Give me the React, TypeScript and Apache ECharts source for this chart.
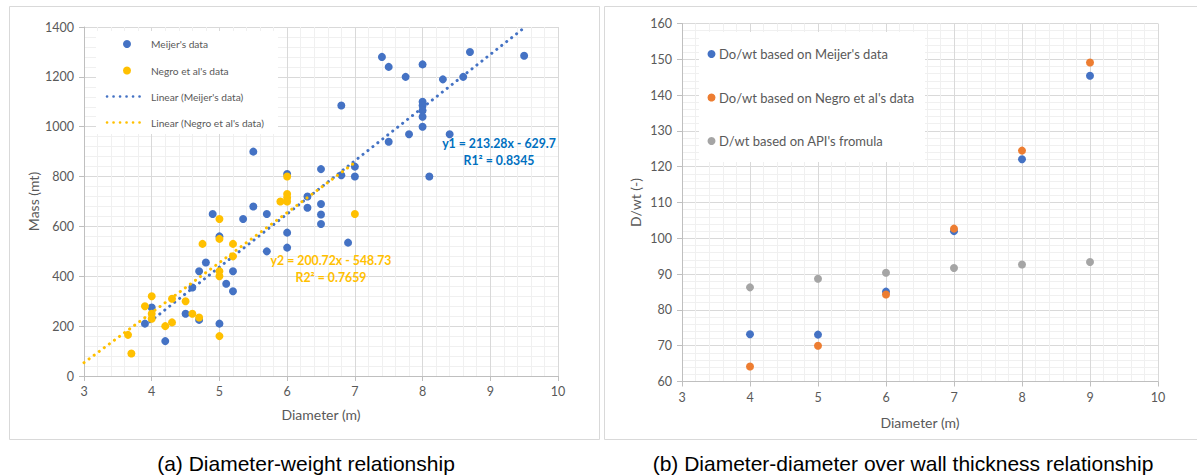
import React, { useEffect, useRef } from "react";
import * as echarts from "echarts";

// (a) Diameter vs mass
const meijerDiameter = [3.9, 4.0, 4.2, 4.5, 4.6, 4.7, 4.7, 4.8, 4.9, 5.0, 5.0, 5.1, 5.2, 5.2, 5.35, 5.5, 5.5, 5.7, 5.7, 6.0, 6.0, 6.0, 6.3, 6.3, 6.5, 6.5, 6.5, 6.5, 6.8, 6.8, 6.9, 7.0, 7.0, 7.4, 7.5, 7.5, 7.75, 7.8, 8.0, 8.0, 8.0, 8.0, 8.0, 8.0, 8.1, 8.3, 8.4, 8.6, 8.7, 9.5];
const meijerMass = [210, 275, 140, 250, 355, 420, 225, 455, 650, 560, 210, 370, 420, 340, 630, 900, 680, 650, 500, 810, 575, 515, 720, 675, 830, 690, 648, 610, 1085, 805, 535, 840, 800, 1280, 1240, 940, 1200, 970, 1250, 1100, 1085, 1065, 1040, 1000, 800, 1190, 970, 1200, 1300, 1285];
const negroDiameter = [3.65, 3.7, 3.9, 4.0, 4.0, 4.0, 4.2, 4.3, 4.3, 4.5, 4.6, 4.7, 4.75, 5.0, 5.0, 5.0, 5.0, 5.0, 5.2, 5.2, 5.9, 6.0, 6.0, 6.0, 6.0, 7.0];
const negroMass = [165, 90, 280, 320, 250, 230, 200, 310, 215, 300, 250, 235, 530, 630, 550, 420, 400, 160, 530, 480, 700, 800, 730, 715, 700, 650];

// Linear trend lines: [slope, intercept, x start, x end]
const meijerFit = [213.28, -629.7, 3.9, 9.5];
const negroFit = [200.72, -548.73, 3.0, 7.0];

// (b) Diameter vs D/wt
const dwtDiameter = [4, 5, 6, 7, 8, 9];
const dwtMeijer = [73.2, 73.1, 85.1, 102.0, 122.1, 145.4];
const dwtNegro = [64.2, 70.0, 84.3, 102.7, 124.5, 149.1];
const dwtApi = [86.3, 88.7, 90.4, 91.7, 92.7, 93.4];

const BLUE = "#4472C4";
const YELLOW = "#FFC000";
const ORANGE = "#ED7D31";
const GRAY = "#A5A5A5";
const TEXT = "#595959";
const FONT = "Lato, 'Noto Sans', sans-serif";

const pairs = (xs: number[], ys: number[]) => xs.map((x, i) => [x, ys[i]]);
const fitLine = (f: number[]) => [
  [f[2], f[0] * f[2] + f[1]],
  [f[3], f[0] * f[3] + f[1]],
];

function valueAxis(min: number, max: number, interval: number, name: string, isY: boolean, gridIndex: number, nameGap: number) {
  return {
    type: "value",
    gridIndex,
    min,
    max,
    interval,
    name,
    nameLocation: "middle",
    nameGap,
    nameTextStyle: { color: TEXT, fontSize: 14, fontFamily: FONT },
    axisLine: { show: true, lineStyle: { color: "#BFBFBF", width: 1 } },
    axisTick: { show: true, length: 5, lineStyle: { color: "#BFBFBF" } },
    axisLabel: {
      color: TEXT,
      fontSize: 12.5,
      fontFamily: FONT,
      margin: isY ? 10 : 9,
      formatter: (v: number) => String(v),
    },
    splitLine: { show: true, lineStyle: { color: "#D9D9D9", width: 1 } },
    minorTick: { show: false, splitNumber: 5 },
    minorSplitLine: { show: true, lineStyle: { color: "#F0F0F0", width: 1 } },
  };
}

export default function App() {
  const ref = useRef<HTMLDivElement>(null);

  useEffect(() => {
    if (!ref.current) return;
    const chart = echarts.init(ref.current, undefined, { renderer: "svg" });

    const dotLine = (color: string) => ({
      color,
      width: 3,
      type: [0.1, 6.2],
      cap: "round",
    });

    const legendText = (x: number, y: number, text: string, size: number) => ({
      type: "text",
      x,
      y,
      z: 101,
      style: { text, fill: TEXT, fontSize: size, fontFamily: FONT, verticalAlign: "middle", align: "left" },
    });

    const dot = (x: number, y: number, color: string) => ({
      type: "circle",
      z: 101,
      shape: { cx: x, cy: y, r: 4 },
      style: { fill: color },
    });

    const dottedSample = (y: number, color: string) => ({
      type: "line",
      z: 101,
      shape: { x1: 107, y1: y, x2: 146, y2: y },
      style: { stroke: color, lineWidth: 2.6, lineDash: [0.1, 6.4], lineCap: "round" },
    });

    const eqText = (x: number, y: number, text: string, color: string) => ({
      type: "text",
      x,
      y,
      z: 100,
      style: { text, fill: color, fontSize: 12.3, fontWeight: "bold", fontFamily: FONT, align: "center", verticalAlign: "middle" },
    });

    const caption = (x: number, text: string) => ({
      type: "text",
      x,
      y: 463,
      style: { text, fill: "#000", fontSize: 21, fontFamily: "'Liberation Sans', Arial, sans-serif", align: "center", verticalAlign: "middle" },
    });

    chart.setOption({
      animation: false,
      backgroundColor: "#fff",
      grid: [
        { left: 84, top: 27, width: 474, height: 349 },
        { left: 682, top: 23.5, width: 476, height: 358 },
      ],
      xAxis: [
        valueAxis(3, 10, 1, "Diameter (m)", false, 0, 31),
        valueAxis(3, 10, 1, "Diameter (m)", false, 1, 34),
      ],
      yAxis: [
        valueAxis(0, 1400, 200, "Mass (mt)", true, 0, 44),
        valueAxis(60, 160, 10, "D/wt (-)", true, 1, 40),
      ],
      series: [
        {
          type: "line",
          name: "Linear (Meijer's data)",
          xAxisIndex: 0,
          yAxisIndex: 0,
          data: fitLine(meijerFit),
          showSymbol: false,
          lineStyle: dotLine(BLUE),
          z: 3,
        },
        {
          type: "scatter",
          name: "Meijer's data",
          xAxisIndex: 0,
          yAxisIndex: 0,
          data: pairs(meijerDiameter, meijerMass),
          symbolSize: 8,
          itemStyle: { color: BLUE, opacity: 1 },
          z: 4,
        },
        {
          type: "scatter",
          name: "Negro et al's data",
          xAxisIndex: 0,
          yAxisIndex: 0,
          data: pairs(negroDiameter, negroMass),
          symbolSize: 8,
          itemStyle: { color: YELLOW, opacity: 1 },
          z: 5,
        },
        {
          type: "line",
          name: "Linear (Negro et al's data)",
          xAxisIndex: 0,
          yAxisIndex: 0,
          data: fitLine(negroFit),
          showSymbol: false,
          lineStyle: dotLine(YELLOW),
          z: 6,
        },
        {
          type: "scatter",
          name: "Do/wt based on Meijer's data",
          xAxisIndex: 1,
          yAxisIndex: 1,
          data: pairs(dwtDiameter, dwtMeijer),
          symbolSize: 8,
          itemStyle: { color: BLUE, opacity: 1 },
        },
        {
          type: "scatter",
          name: "Do/wt based on Negro et al's data",
          xAxisIndex: 1,
          yAxisIndex: 1,
          data: pairs(dwtDiameter, dwtNegro),
          symbolSize: 8,
          itemStyle: { color: ORANGE, opacity: 1 },
        },
        {
          type: "scatter",
          name: "D/wt based on API's fromula",
          xAxisIndex: 1,
          yAxisIndex: 1,
          data: pairs(dwtDiameter, dwtApi),
          symbolSize: 8,
          itemStyle: { color: GRAY, opacity: 1 },
        },
      ],
      graphic: [
        // chart frames
        { type: "rect", z: -1, shape: { x: 9.5, y: 6.5, width: 590, height: 433 }, style: { fill: "none", stroke: "#D9D9D9", lineWidth: 1 } },
        { type: "rect", z: -1, shape: { x: 604.5, y: 6.5, width: 600, height: 433 }, style: { fill: "none", stroke: "#D9D9D9", lineWidth: 1 } },
        // legend (a)
        { type: "rect", z: 100, shape: { x: 96, y: 31, width: 182, height: 103 }, style: { fill: "#fff" } },
        dot(127, 44, BLUE),
        legendText(151, 44, "Meijer's data", 10.2),
        dot(127, 70.5, YELLOW),
        legendText(151, 70.5, "Negro et al's data", 10.2),
        dottedSample(96.5, BLUE),
        legendText(151, 96.5, "Linear (Meijer's data)", 10.2),
        dottedSample(122.5, YELLOW),
        legendText(151, 122.5, "Linear (Negro et al's data)", 10.2),
        // legend (b)
        { type: "rect", z: 100, shape: { x: 699, y: 32, width: 226, height: 130 }, style: { fill: "#fff" } },
        dot(711.5, 54, BLUE),
        legendText(719, 54, "Do/wt based on Meijer's data", 13),
        dot(711.5, 97.5, ORANGE),
        legendText(719, 97.5, "Do/wt based on Negro et al's data", 13),
        dot(711.5, 141, GRAY),
        legendText(719, 141, "D/wt based on API's fromula", 13),
        // trend line equations
        eqText(499, 143, "y1 = 213.28x - 629.7", "#0070C0"),
        eqText(499, 160, "R1² = 0.8345", "#0070C0"),
        eqText(331, 260, "y2 = 200.72x - 548.73", YELLOW),
        eqText(331, 277, "R2² = 0.7659", YELLOW),
        // captions
        caption(306, "(a) Diameter-weight relationship"),
        caption(903, "(b) Diameter-diameter over wall thickness relationship"),
      ],
    });

    return () => chart.dispose();
  }, []);

  return (
    <div
      ref={ref}
      style={{ position: "fixed", left: 0, top: 0, width: 1197, height: 475, background: "#fff" }}
    />
  );
}
